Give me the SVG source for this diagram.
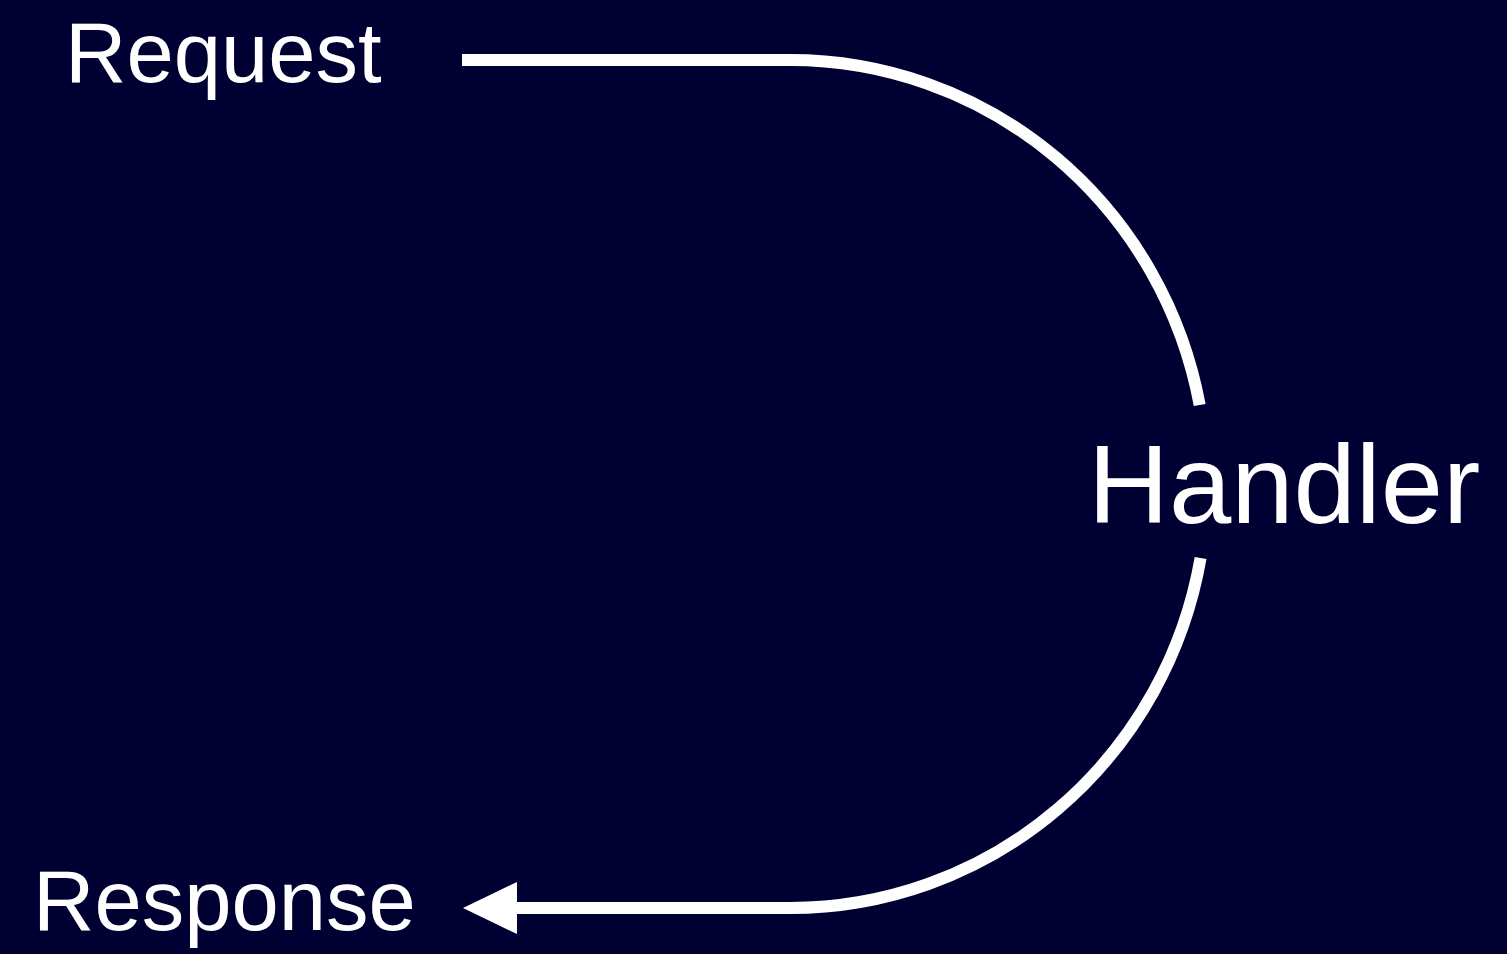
<svg xmlns="http://www.w3.org/2000/svg" width="1507" height="954" viewBox="0 0 1507 954">
  <style>
    .lbl { font-family: "Liberation Sans", Arial, Helvetica, sans-serif; fill: #ffffff; }
    .edge { fill: none; stroke: #ffffff; stroke-width: 12; stroke-linecap: butt; }
  </style>
  <rect x="0" y="0" width="1507" height="954" fill="#000032"/>
  <g id="connectors">
    <path class="edge" d="M462,60 H790 A417,424 0 0 1 1199.7,405"/>
    <path class="edge" d="M1200.6,558 A417,424 0 0 1 790,908 H512"/>
    <polygon points="463,908 517,882 517,934" fill="#ffffff"/>
  </g>
  <g id="node-request">
    <text class="lbl" x="65" y="82" font-size="85">Request</text>
  </g>
  <g id="node-handler">
    <text class="lbl" x="1088" y="523" font-size="112">Handler</text>
  </g>
  <g id="node-response">
    <text class="lbl" x="33" y="930" font-size="85">Response</text>
  </g>
</svg>
